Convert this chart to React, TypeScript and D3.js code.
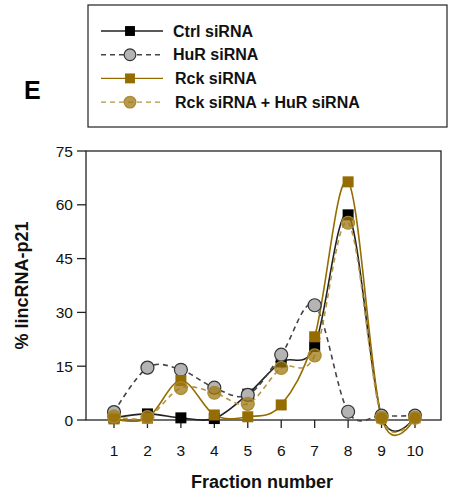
import React from "react";
import * as d3 from "d3";

const fractions = [1, 2, 3, 4, 5, 6, 7, 8, 9, 10];
const ctrlSiRNA = [0.6, 1.7, 0.6, 0.4, 7.2, 16.2, 20.5, 57.2, 1.0, 1.0];
const hurSiRNA = [2.2, 14.6, 14.0, 9.0, 7.0, 18.2, 32.0, 2.3, 1.2, 1.2];
const rckSiRNA = [0.3, 0.5, 11.0, 1.4, 0.9, 4.2, 23.2, 66.4, 0.6, 0.6];
const rckHurSiRNA = [1.0, 0.8, 8.9, 7.6, 4.5, 14.5, 18.0, 55.0, 0.6, 0.6];
const yTicks = [0, 15, 30, 45, 60, 75];
const legendLabels = ["Ctrl siRNA", "HuR siRNA", "Rck siRNA", "Rck siRNA + HuR siRNA"];

const GOLD = "#946c00";
const GOLD_LIGHT = "#b39440";

const series = [
  { name: legendLabels[0], values: ctrlSiRNA, color: "#222", marker: "square", fill: "#000", dash: "", stroke: "#000" },
  { name: legendLabels[1], values: hurSiRNA, color: "#444", marker: "circle", fill: "#b4b4b4", dash: "5,4", stroke: "#333" },
  { name: legendLabels[2], values: rckSiRNA, color: GOLD, marker: "square", fill: GOLD, dash: "", stroke: GOLD },
  { name: legendLabels[3], values: rckHurSiRNA, color: GOLD_LIGHT, marker: "circle", fill: "rgba(160,120,20,0.75)", dash: "5,4", stroke: "#a88a30" },
];

export default function App() {
  const W = 451, H = 497;
  const left = 86, right = 441, top = 151, bottom = 420;
  const x = d3.scaleLinear().domain([1, 10]).range([114, 415]);
  const y = d3.scaleLinear().domain([0, 75]).range([bottom, top]);
  const font = "'Liberation Sans', Arial, sans-serif";
  const line = d3
    .line<number>()
    .x((_, i) => x(fractions[i]))
    .y((d) => y(d))
    .curve(d3.curveCardinal.tension(0));

  const marker = (s: any, cx: number, cy: number, key: any, size = 1) =>
    s.marker === "square" ? (
      <rect key={key} x={cx - 5.5 * size} y={cy - 5.5 * size} width={11 * size} height={11 * size} fill={s.fill} />
    ) : (
      <circle key={key} cx={cx} cy={cy} r={6.5 * size} fill={s.fill} stroke={s.stroke} strokeWidth={1.2} />
    );

  return (
    <svg width={W} height={H} style={{ position: "absolute", left: 0, top: 0, background: "#fff" }}>
      <rect x={0} y={0} width={W} height={H} fill="#fff" />
      {/* Panel letter */}
      <text x={24} y={99} fontFamily={font} fontWeight="bold" fontSize={25}>E</text>
      {/* Legend */}
      <rect x={88} y={5} width={359} height={122} fill="#fff" stroke="#222" strokeWidth={1.2} />
      {series.map((s, i) => {
        const ly = 31 + i * 23.7;
        return (
          <g key={s.name}>
            <line x1={101} x2={163} y1={ly} y2={ly} stroke={s.color} strokeWidth={1.4} strokeDasharray={s.dash} />
            {marker(s, 130, ly, "m", 0.9)}
            <text x={173 + (i >= 2 ? 2 : 0)} y={ly + 5.5} fontFamily={font} fontWeight="bold" fontSize={16} fill="#111">
              {s.name}
            </text>
          </g>
        );
      })}
      {/* Frame */}
      <rect x={left} y={top} width={right - left} height={bottom - top} fill="none" stroke="#222" strokeWidth={1.3} />
      {/* Y ticks */}
      {yTicks.map((t) => (
        <g key={t}>
          <line x1={left - 9} x2={left} y1={y(t)} y2={y(t)} stroke="#222" strokeWidth={1.3} />
          <text x={73} y={y(t) + 5.5} textAnchor="end" fontFamily={font} fontSize={15.5} fill="#111">{t}</text>
        </g>
      ))}
      {/* X ticks */}
      {fractions.map((f) => (
        <g key={f}>
          <line x1={x(f)} x2={x(f)} y1={bottom} y2={bottom + 8} stroke="#222" strokeWidth={1.3} />
          <text x={x(f)} y={456} textAnchor="middle" fontFamily={font} fontSize={15.5} fill="#111">{f}</text>
        </g>
      ))}
      {/* Axis titles */}
      <text x={262} y={488} textAnchor="middle" fontFamily={font} fontWeight="bold" fontSize={18} fill="#111">Fraction number</text>
      <text transform={`translate(28,${(top + bottom) / 2}) rotate(-90)`} textAnchor="middle" fontFamily={font} fontWeight="bold" fontSize={18} fill="#111">% lincRNA-p21</text>
      {/* Lines */}
      {series.map((s) => (
        <path key={s.name} d={line(s.values) || ""} fill="none" stroke={s.color} strokeWidth={1.6} strokeDasharray={s.dash} />
      ))}
      {/* Markers */}
      {series.map((s) => (
        <g key={s.name + "m"}>{s.values.map((v, i) => marker(s, x(fractions[i]), y(v), i))}</g>
      ))}
    </svg>
  );
}
